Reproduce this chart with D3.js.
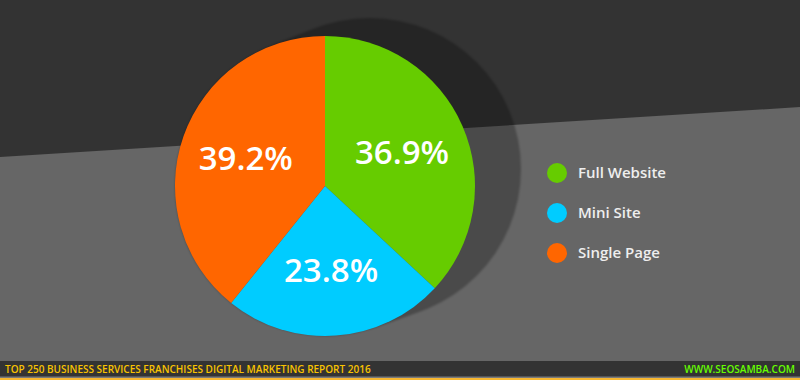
<!DOCTYPE html>
<html><head><meta charset="utf-8">
<script src="https://cdnjs.cloudflare.com/ajax/libs/d3/7.8.5/d3.min.js"></script>
<style>html,body{margin:0;padding:0;background:#666;}svg{display:block;}</style>
</head><body>
<script>
const categories = ["Full Website", "Mini Site", "Single Page"];
const values = [36.9, 23.8, 39.2];
const colors = ["#66cc00", "#00ccff", "#ff6600"];
const footerLeft = "TOP 250 BUSINESS SERVICES FRANCHISES DIGITAL MARKETING REPORT 2016";
const footerRight = "WWW.SEOSAMBA.COM";

const W = 800, H = 380;
const svg = d3.select("body").append("svg").attr("width", W).attr("height", H);
const font = "'Open Sans', 'Noto Sans', sans-serif";

// background
svg.append("rect").attr("width", W).attr("height", H).attr("fill", "#666666");
svg.append("path").attr("d", "M0,0 L800,0 L800,107 L0,157 Z").attr("fill", "#333333");

// shadow (capsule from pie center to offset circle)
const cx = 325, cy = 186, R = 150;
const sx = 370, sy = 169, SR = 151;
const defs = svg.append("defs");
defs.append("filter").attr("id", "blur").append("feGaussianBlur").attr("stdDeviation", 1.2);
const sh = svg.append("g").attr("opacity", 0.27).attr("filter", "url(#blur)");
const steps = 30;
d3.range(steps + 1).forEach(i => {
  const t = i / steps;
  sh.append("circle")
    .attr("cx", cx + (sx - cx) * t)
    .attr("cy", cy + (sy - cy) * t)
    .attr("r", R + (SR - R) * t)
    .attr("fill", "#000");
});

// pie
const pie = d3.pie().sort(null).value(d => d)(values);
const arc = d3.arc().innerRadius(0).outerRadius(R);
const labelArc = d3.arc().innerRadius(84).outerRadius(84);
const g = svg.append("g").attr("transform", `translate(${cx},${cy})`);
g.selectAll("path.slice").data(pie).join("path")
  .attr("class", "slice")
  .attr("d", arc)
  .attr("fill", (d, i) => colors[i]);

g.selectAll("text.lbl").data(pie).join("text")
  .attr("class", "lbl")
  .attr("transform", d => { const c = labelArc.centroid(d); return `translate(${c[0]},${c[1]})`; })
  .attr("text-anchor", "middle")
  .attr("dy", "0.36em")
  .attr("fill", "#ffffff")
  .style("font-family", font)
  .style("font-weight", 600)
  .style("font-size", "33px")
  .text(d => d.value.toFixed(1) + "%");

// legend
const legend = svg.append("g").attr("transform", "translate(557,173)");
const items = legend.selectAll("g").data(categories).join("g")
  .attr("transform", (d, i) => `translate(0,${i * 40})`);
items.append("circle").attr("r", 10).attr("fill", (d, i) => colors[i]);
items.append("text")
  .attr("x", 21).attr("y", 0).attr("dy", "0.36em")
  .attr("fill", "#eeeeee")
  .style("font-family", font)
  .style("font-weight", 600)
  .style("font-size", "15px")
  .text(d => d);

// footer
svg.append("rect").attr("x", 0).attr("y", 361).attr("width", W).attr("height", 16).attr("fill", "#333333");
svg.append("rect").attr("x", 0).attr("y", 376.5).attr("width", W).attr("height", 1.5).attr("fill", "#7a7a7a");
svg.append("rect").attr("x", 0).attr("y", 378).attr("width", W).attr("height", 2).attr("fill", "#f7b731");
svg.append("text").attr("x", 5).attr("y", 373)
  .attr("fill", "#f9c300")
  .style("font-family", font).style("font-weight", 600).style("font-size", "10px")
  .text(footerLeft);
svg.append("text").attr("x", 795).attr("y", 373).attr("text-anchor", "end")
  .attr("fill", "#66ff00")
  .style("font-family", font).style("font-weight", 600).style("font-size", "10px")
  .text(footerRight);
</script>
</body></html>
